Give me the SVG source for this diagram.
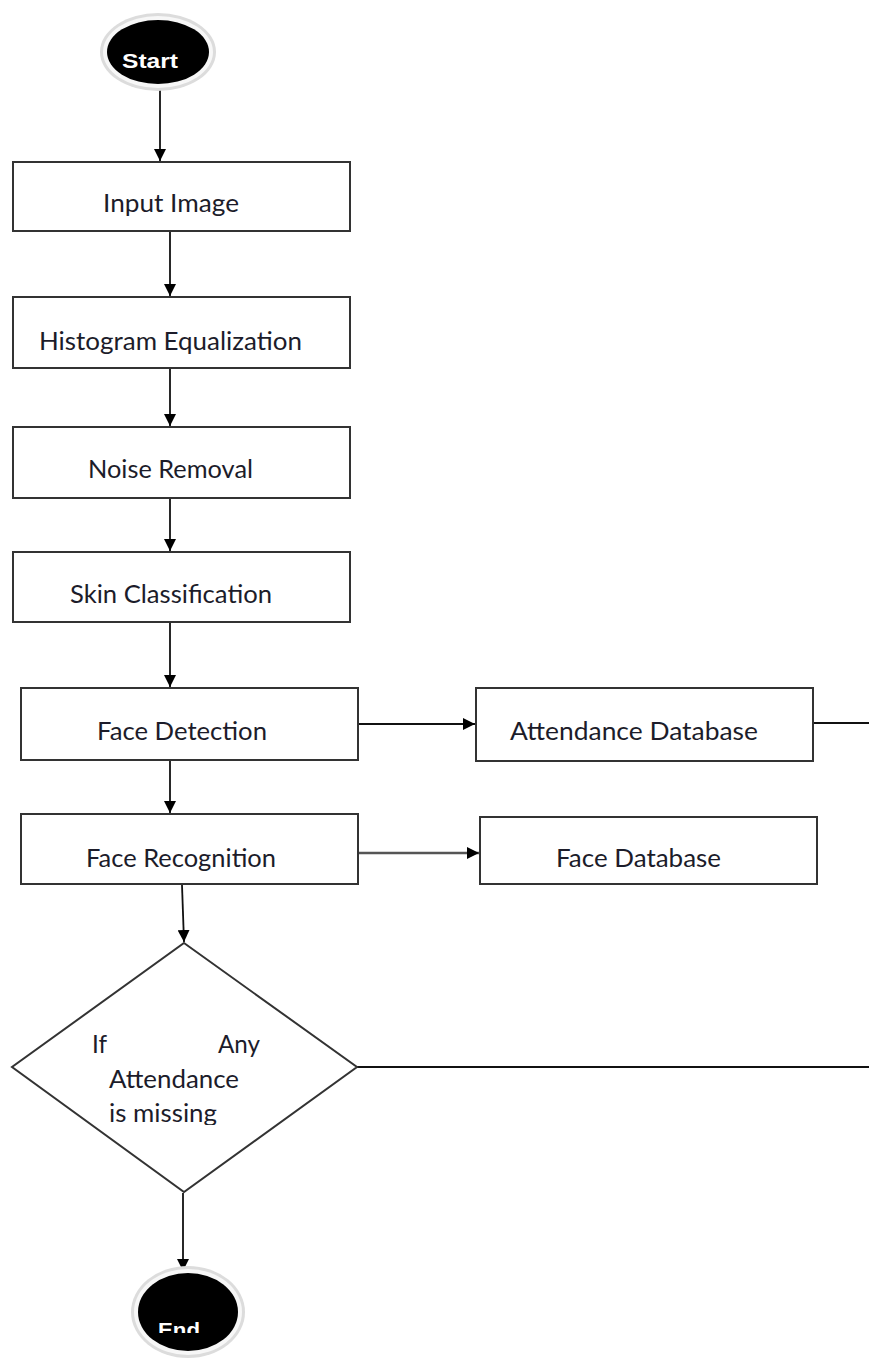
<svg xmlns="http://www.w3.org/2000/svg" width="869" height="1360" viewBox="0 0 869 1360">
<style>
.box{fill:#fff;stroke:#333;stroke-width:2}
.lbl{font-family:Lato,"Liberation Sans",sans-serif;font-size:25px;fill:#1c1c2a}
.term{font-family:"Liberation Sans",Arial,sans-serif;font-weight:bold;font-size:21px;fill:#fff}
.con{fill:none;stroke:#111;stroke-width:1.8}
</style>
<defs>
<marker id="arr" viewBox="0 0 10 10" refX="10" refY="5" markerWidth="12" markerHeight="12" markerUnits="userSpaceOnUse" orient="auto">
<path d="M0,0 L10,5 L0,10 z" fill="#000"/>
</marker>
<clipPath id="clipStart"><rect x="0" y="0" width="300" height="69"/></clipPath>
<clipPath id="clipEnd"><rect x="0" y="1250" width="300" height="83"/></clipPath>
<clipPath id="clipMiss"><rect x="0" y="1090" width="400" height="35"/></clipPath>
</defs>
<rect width="869" height="1360" fill="#fff"/>
<g id="connectors">
<path class="con" d="M160,86 V161" marker-end="url(#arr)"/>
<path class="con" d="M170,231 V296" marker-end="url(#arr)"/>
<path class="con" d="M170,368 V426" marker-end="url(#arr)"/>
<path class="con" d="M170,498 V551" marker-end="url(#arr)"/>
<path class="con" d="M170,622 V687" marker-end="url(#arr)"/>
<path class="con" d="M358,724 H475" marker-end="url(#arr)"/>
<path class="con" d="M813,723 H869"/>
<path class="con" d="M170,760 V813" marker-end="url(#arr)"/>
<path class="con" d="M358,853 H479" style="stroke:#555;stroke-width:2.6" marker-end="url(#arr)"/>
<path class="con" d="M182,885 L184,942" marker-end="url(#arr)"/>
<path class="con" d="M357,1067 H869"/>
<path class="con" d="M183,1193 V1271" marker-end="url(#arr)"/>
</g>
<g id="start">
<ellipse cx="158" cy="52" rx="58" ry="39" fill="#dcdcdc"/>
<ellipse cx="158" cy="52" rx="55" ry="36" fill="#f7f7f7"/>
<ellipse cx="158" cy="52" rx="51" ry="32" fill="#000"/>
<text class="term" x="122" y="68" textLength="56" lengthAdjust="spacingAndGlyphs" clip-path="url(#clipStart)">Start</text>
</g>
<g id="input-image">
<rect class="box" x="13" y="162" width="337" height="69"/>
<text class="lbl" x="103" y="212" textLength="136" lengthAdjust="spacingAndGlyphs">Input Image</text>
</g>
<g id="histogram">
<rect class="box" x="13" y="297" width="337" height="71"/>
<text class="lbl" x="39" y="350" textLength="263" lengthAdjust="spacingAndGlyphs">Histogram Equalization</text>
</g>
<g id="noise">
<rect class="box" x="13" y="427" width="337" height="71"/>
<text class="lbl" x="88" y="478" textLength="165" lengthAdjust="spacingAndGlyphs">Noise Removal</text>
</g>
<g id="skin">
<rect class="box" x="13" y="552" width="337" height="70"/>
<text class="lbl" x="70" y="603" textLength="202" lengthAdjust="spacingAndGlyphs">Skin Classification</text>
</g>
<g id="face-detection">
<rect class="box" x="21" y="688" width="337" height="72"/>
<text class="lbl" x="97" y="740" textLength="170" lengthAdjust="spacingAndGlyphs">Face Detection</text>
</g>
<g id="attendance-db">
<rect class="box" x="476" y="688" width="337" height="73"/>
<text class="lbl" x="510" y="740" textLength="248" lengthAdjust="spacingAndGlyphs">Attendance Database</text>
</g>
<g id="face-recognition">
<rect class="box" x="21" y="814" width="337" height="70"/>
<text class="lbl" x="86" y="867" textLength="190" lengthAdjust="spacingAndGlyphs">Face Recognition</text>
</g>
<g id="face-db">
<rect class="box" x="480" y="817" width="337" height="67"/>
<text class="lbl" x="556" y="867" textLength="165" lengthAdjust="spacingAndGlyphs">Face Database</text>
</g>
<g id="decision">
<path class="box" d="M184,943 L357,1067 L184,1192 L12,1067 Z"/>
<text class="lbl" x="92" y="1053" textLength="15" lengthAdjust="spacingAndGlyphs">If</text>
<text class="lbl" x="218" y="1053" textLength="42" lengthAdjust="spacingAndGlyphs">Any</text>
<text class="lbl" x="109" y="1088" textLength="130" lengthAdjust="spacingAndGlyphs">Attendance</text>
<text class="lbl" x="109" y="1122" textLength="108" lengthAdjust="spacingAndGlyphs" clip-path="url(#clipMiss)">is missing</text>
</g>
<g id="end">
<ellipse cx="188" cy="1312" rx="57" ry="46" fill="#dcdcdc"/>
<ellipse cx="188" cy="1312" rx="54" ry="43" fill="#f7f7f7"/>
<ellipse cx="188" cy="1312" rx="50" ry="39" fill="#000"/>
<text class="term" x="158" y="1337" textLength="42" lengthAdjust="spacingAndGlyphs" clip-path="url(#clipEnd)">End</text>
</g>
</svg>
